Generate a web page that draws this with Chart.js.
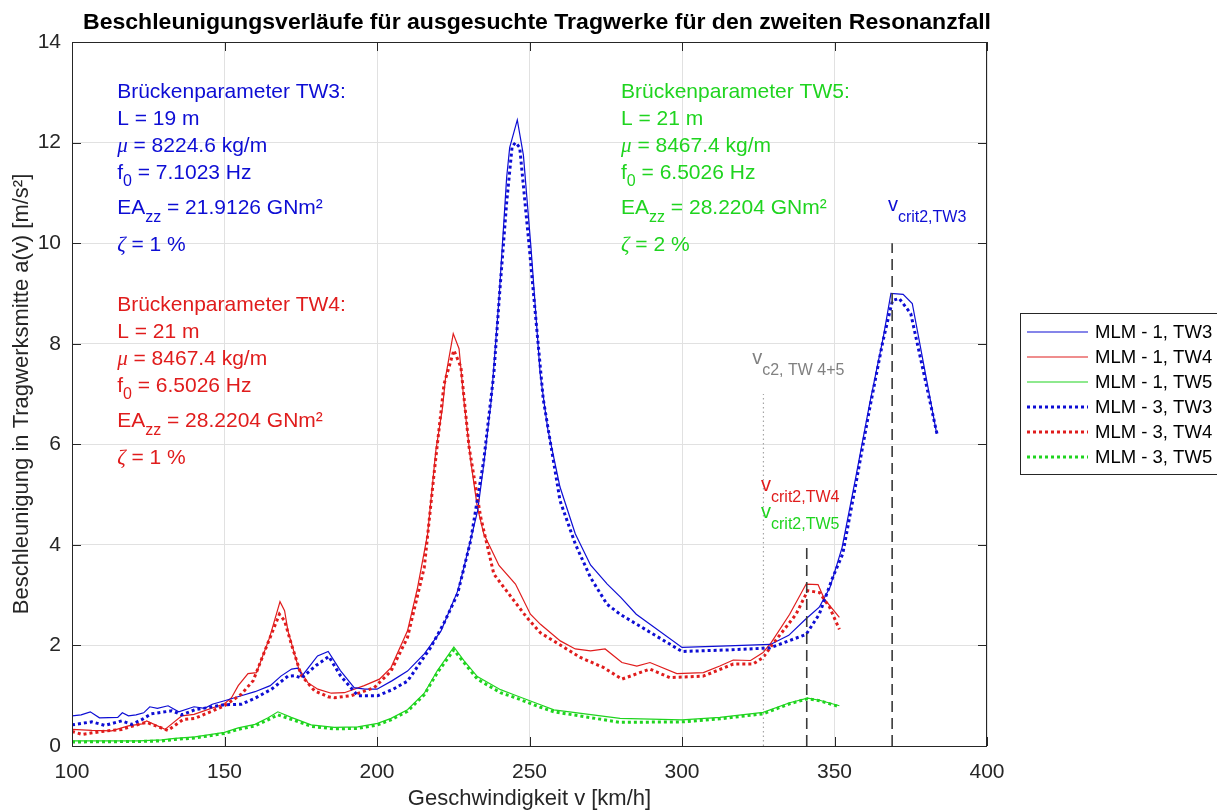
<!DOCTYPE html>
<html>
<head>
<meta charset="utf-8">
<script src="https://cdn.jsdelivr.net/npm/chart.js@4.4.0/dist/chart.umd.min.js"></script>
<style>
    html, body { margin: 0; padding: 0; background: #fff; }
    #wrap { width: 1217px; height: 811px; }
</style>
</head>
<body>
<div id="wrap"><canvas id="accChart" width="1217" height="811"></canvas></div>
<script>
// Messwerte: Geschwindigkeit [km/h] -> Beschleunigung in Tragwerksmitte [m/s²]
const mlm1Tw3Speed = [100, 103, 106, 109, 115, 116.5, 118.5, 121, 123.5, 125.5, 128, 131.5, 135, 140, 143.5, 146, 150, 155.5, 160, 165, 168.5, 172, 174, 175.5, 180.5, 184, 188, 192.5, 196, 200, 205, 210, 215.5, 221, 226.5, 228.5, 233, 235, 237.5, 240, 242.5, 243.5, 246, 248, 250.5, 253.5, 256, 260, 265, 270, 275.5, 280, 285, 300, 315, 329, 335, 340.5, 345, 348.5, 352.5, 357, 361.5, 366, 368.5, 372.5, 375.5, 383.5];
const mlm1Tw3Acc = [0.60, 0.62, 0.68, 0.56, 0.57, 0.66, 0.60, 0.62, 0.66, 0.78, 0.75, 0.80, 0.68, 0.78, 0.75, 0.83, 0.90, 1.00, 1.08, 1.20, 1.39, 1.53, 1.55, 1.40, 1.79, 1.88, 1.50, 1.16, 1.13, 1.13, 1.30, 1.49, 1.83, 2.29, 3.09, 3.55, 4.68, 5.60, 6.90, 8.90, 11.30, 11.90, 12.45, 11.75, 9.90, 7.40, 6.30, 5.15, 4.22, 3.60, 3.22, 2.95, 2.62, 1.96, 1.99, 2.02, 2.20, 2.52, 2.76, 3.15, 3.95, 5.35, 6.80, 8.13, 9.00, 8.98, 8.80, 6.21];

const mlm1Tw4Speed = [100, 106.5, 113, 118.5, 123, 124.5, 130.5, 136, 140, 150, 152.3, 154.5, 157.7, 160.5, 164.8, 168.2, 169.7, 170.8, 174.3, 177.3, 180.6, 185, 189.3, 195.8, 200.8, 204.6, 210, 213.3, 216.6, 219.3, 221.5, 222.5, 225, 226.9, 228.5, 230.7, 232.9, 235, 240, 245.4, 250.3, 253.6, 260.1, 265, 270, 274.8, 280.3, 285.2, 289.5, 298.3, 307, 312.4, 316.8, 322.5, 326.6, 329.3, 335.3, 340.7, 344.6, 346.7, 351.6];
const mlm1Tw4Acc = [0.33, 0.31, 0.30, 0.40, 0.44, 0.50, 0.33, 0.60, 0.63, 0.84, 0.96, 1.20, 1.44, 1.46, 2.16, 2.87, 2.69, 2.29, 1.55, 1.26, 1.13, 1.05, 1.06, 1.20, 1.33, 1.56, 2.29, 3.15, 4.22, 5.88, 6.74, 7.34, 8.20, 7.90, 6.87, 5.68, 4.75, 4.22, 3.59, 3.22, 2.62, 2.42, 2.09, 1.93, 1.89, 1.93, 1.66, 1.59, 1.66, 1.44, 1.46, 1.59, 1.71, 1.70, 1.86, 2.06, 2.62, 3.22, 3.21, 2.92, 2.56];

const mlm1Tw5Speed = [100, 121.8, 129.4, 133.7, 140.3, 150, 154.5, 160, 164.3, 167.5, 171.9, 178.4, 186, 193.7, 200.2, 204.6, 210, 215.5, 219.8, 225.2, 228.5, 232.9, 240.5, 244.9, 253.6, 258, 279.7, 300, 312.4, 326.6, 335.3, 341.2, 345.1, 351.6];
const mlm1Tw5Acc = [0.10, 0.10, 0.12, 0.15, 0.18, 0.27, 0.36, 0.43, 0.56, 0.68, 0.57, 0.42, 0.37, 0.38, 0.45, 0.55, 0.72, 1.05, 1.50, 1.97, 1.70, 1.38, 1.12, 1.02, 0.82, 0.72, 0.55, 0.52, 0.57, 0.67, 0.86, 0.95, 0.91, 0.80];

const mlm3Tw3Speed = [100, 103.3, 106.5, 110.8, 116.3, 119.6, 123, 126, 132.7, 136, 140.3, 150, 155.5, 160, 165.4, 170.8, 173, 175.2, 180, 184.2, 188, 193.7, 200.2, 205, 210, 217.6, 222, 226.4, 230.7, 235, 238.3, 240.2, 242.5, 244.3, 245.4, 246.8, 249.8, 254.5, 260, 265, 270, 275.4, 279.7, 285.2, 300, 315, 328.8, 340.7, 345, 349.4, 352.7, 357, 361.4, 365.8, 369, 371.2, 375, 383.6];
const mlm3Tw3Acc = [0.42, 0.45, 0.48, 0.41, 0.50, 0.43, 0.53, 0.64, 0.70, 0.62, 0.72, 0.82, 0.83, 0.95, 1.13, 1.39, 1.40, 1.35, 1.60, 1.78, 1.40, 1.00, 1.00, 1.12, 1.29, 1.96, 2.45, 3.02, 4.08, 5.68, 7.40, 9.00, 10.80, 11.92, 12.00, 11.90, 10.00, 6.90, 4.88, 4.02, 3.35, 2.82, 2.62, 2.42, 1.88, 1.91, 1.95, 2.22, 2.62, 3.35, 3.82, 5.21, 6.67, 8.03, 8.86, 8.90, 8.60, 6.21];

const mlm3Tw4Speed = [100, 103.3, 109.8, 116.3, 122.9, 124.5, 131.4, 136.5, 140.3, 150, 155.5, 159.4, 163.2, 168, 169.7, 171.9, 175.2, 179.5, 183.9, 186, 191.5, 199.1, 204.6, 210, 215.5, 218.7, 222, 225.2, 227.5, 230.2, 234, 238.3, 244.9, 249.2, 253.6, 257.9, 266.7, 274.3, 280.3, 289.5, 296, 307, 316.8, 323.3, 326.6, 329.8, 337.4, 341.2, 345.1, 348.4, 351.6];
const mlm3Tw4Acc = [0.29, 0.23, 0.29, 0.33, 0.45, 0.47, 0.31, 0.53, 0.55, 0.80, 1.03, 1.30, 1.89, 2.62, 2.49, 2.03, 1.40, 1.10, 0.98, 0.96, 1.00, 1.16, 1.49, 2.16, 3.55, 5.41, 7.20, 7.87, 7.54, 5.94, 4.55, 3.42, 2.89, 2.55, 2.25, 2.09, 1.76, 1.56, 1.33, 1.53, 1.36, 1.39, 1.63, 1.63, 1.76, 2.03, 2.62, 3.09, 3.05, 2.76, 2.32];

const mlm3Tw5Speed = [100, 121.8, 129.4, 133.7, 140.3, 150, 154.5, 160, 164.3, 167.5, 171.9, 178.4, 186, 193.7, 200.2, 204.6, 210, 215.5, 219.8, 225.2, 228.5, 232.9, 240.5, 244.9, 253.6, 258, 279.7, 300, 312.4, 326.6, 335.3, 341.2, 345.1, 351.6];
const mlm3Tw5Acc = [0.08, 0.09, 0.10, 0.13, 0.16, 0.25, 0.33, 0.40, 0.52, 0.62, 0.53, 0.39, 0.34, 0.35, 0.42, 0.52, 0.69, 1.02, 1.46, 1.91, 1.66, 1.33, 1.06, 0.97, 0.77, 0.68, 0.47, 0.48, 0.54, 0.64, 0.84, 0.94, 0.90, 0.78];

const seriesLabels = ['MLM - 1, TW3', 'MLM - 1, TW4', 'MLM - 1, TW5', 'MLM - 3, TW3', 'MLM - 3, TW4', 'MLM - 3, TW5'];

// kritische Geschwindigkeiten (Hilfslinien) und deren Höhe
const refSpeed = [326.7, 340.9, 368.9];
const refTop = [7, 4, 10];

// Brückenparameter
const bridgeName = ['TW3', 'TW4', 'TW5'];
const bridgeLength = ['19', '21', '21'];
const bridgeMass = ['8224.6', '8467.4', '8467.4'];
const bridgeFreq = ['7.1023', '6.5026', '6.5026'];
const bridgeStiffness = ['21.9126', '28.2204', '28.2204'];
const bridgeDamping = ['1', '1', '2'];

const xTicks = [100, 150, 200, 250, 300, 350, 400];
const yTicks = [0, 2, 4, 6, 8, 10, 12, 14];

const FONT = '"Liberation Sans", Arial, Helvetica, sans-serif';
const BLUE = '#0d0dd4';
const RED = '#e01c1c';
const GREEN = '#1fd41f';
const AXIS = '#262626';

Chart.defaults.font.family = FONT;

function toPoints(xs, ys) {
    return xs.map((x, i) => ({ x: x, y: ys[i] }));
}

const curves = [
    { xs: mlm1Tw3Speed, ys: mlm1Tw3Acc, color: BLUE, dotted: false },
    { xs: mlm1Tw4Speed, ys: mlm1Tw4Acc, color: RED, dotted: false },
    { xs: mlm1Tw5Speed, ys: mlm1Tw5Acc, color: GREEN, dotted: false },
    { xs: mlm3Tw3Speed, ys: mlm3Tw3Acc, color: BLUE, dotted: true },
    { xs: mlm3Tw4Speed, ys: mlm3Tw4Acc, color: RED, dotted: true },
    { xs: mlm3Tw5Speed, ys: mlm3Tw5Acc, color: GREEN, dotted: true }
];

const datasets = curves.map((c, i) => ({
    label: seriesLabels[i],
    data: toPoints(c.xs, c.ys),
    borderColor: c.color,
    borderWidth: c.dotted ? 3 : 1.2,
    borderDash: c.dotted ? [3, 3] : [],
    borderCapStyle: 'butt',
    showLine: true,
    pointRadius: 0,
    tension: 0,
    order: c.dotted ? 1 : 2
}));

// Hilfslinien: v_c2 (gepunktet), v_crit2 (gestrichelt)
refSpeed.forEach((v, i) => {
    datasets.push({
        label: 'ref' + i,
        data: [{ x: v, y: 0 }, { x: v, y: refTop[i] }],
        borderColor: i === 0 ? '#a6a6a6' : '#3a3a3a',
        borderWidth: i === 0 ? 1.2 : 1.6,
        borderDash: i === 0 ? [1.5, 3] : [11, 6],
        showLine: true,
        pointRadius: 0,
        order: 0
    });
});

// Text mit Tiefstellung zeichnen
function drawRuns(ctx, x, y, runs, color) {
    ctx.fillStyle = color;
    ctx.textBaseline = 'middle';
    ctx.textAlign = 'left';
    let cx = x;
    for (const r of runs) {
        ctx.font = r.font;
        ctx.fillText(r.text, cx, y + (r.dy || 0));
        cx += ctx.measureText(r.text).width;
    }
}

const MAIN = `21px ${FONT}`;
const SUB = `16px ${FONT}`;
const GREEK = `italic 21px "Liberation Serif", "DejaVu Serif", serif`;

function paramLines(i) {
    return [
        [{ text: `Brückenparameter ${bridgeName[i]}:`, font: MAIN }],
        [{ text: `L = ${bridgeLength[i]} m`, font: MAIN }],
        [{ text: 'μ', font: GREEK }, { text: ` = ${bridgeMass[i]} kg/m`, font: MAIN }],
        [{ text: 'f', font: MAIN }, { text: '0', font: SUB, dy: 8 }, { text: ` = ${bridgeFreq[i]} Hz`, font: MAIN }],
        [{ text: 'EA', font: MAIN }, { text: 'zz', font: SUB, dy: 9 }, { text: ` = ${bridgeStiffness[i]} GNm²`, font: MAIN }],
        [{ text: 'ζ', font: GREEK }, { text: ` = ${bridgeDamping[i]} %`, font: MAIN }]
    ];
}

const decorPlugin = {
    id: 'decor',
    afterDraw(chart) {
        const { ctx, chartArea: a, scales: { x, y } } = chart;
        ctx.save();

        // Rahmen und innenliegende Ticks
        ctx.strokeStyle = AXIS;
        ctx.lineWidth = 1;
        ctx.strokeRect(a.left + 0.5, a.top + 0.5, a.right - a.left - 1, a.bottom - a.top);
        ctx.beginPath();
        xTicks.forEach(v => {
            const px = Math.round(x.getPixelForValue(v)) + 0.5;
            ctx.moveTo(px, a.bottom); ctx.lineTo(px, a.bottom - 9);
            ctx.moveTo(px, a.top); ctx.lineTo(px, a.top + 9);
        });
        yTicks.forEach(v => {
            const py = Math.round(y.getPixelForValue(v)) + 0.5;
            ctx.moveTo(a.left, py); ctx.lineTo(a.left + 9, py);
            ctx.moveTo(a.right, py); ctx.lineTo(a.right - 9, py);
        });
        ctx.stroke();

        // Titel, auf Zielbreite gestreckt
        const title = 'Beschleunigungsverläufe für ausgesuchte Tragwerke für den zweiten Resonanzfall';
        ctx.font = `bold 22px ${FONT}`;
        const sx = 908 / ctx.measureText(title).width;
        ctx.save();
        ctx.translate(537, 29);
        ctx.scale(sx, 1);
        ctx.fillStyle = '#000';
        ctx.textAlign = 'center';
        ctx.textBaseline = 'alphabetic';
        ctx.fillText(title, 0, 0);
        ctx.restore();

        // Parameterblöcke
        const blocks = [
            { i: 0, vx: 114.8, vy: 13.0, color: BLUE },
            { i: 1, vx: 114.8, vy: 8.76, color: RED },
            { i: 2, vx: 280.0, vy: 13.0, color: GREEN }
        ];
        const offs = [0, 27, 54, 81, 116, 153];
        blocks.forEach(b => {
            const bx = x.getPixelForValue(b.vx);
            const by = y.getPixelForValue(b.vy);
            paramLines(b.i).forEach((runs, k) => drawRuns(ctx, bx, by + offs[k], runs, b.color));
        });

        // Beschriftung der Hilfslinien
        const vLabels = [
            { vx: 323.0, vy: 7.71, sub: 'c2, TW 4+5', color: '#808080' },
            { vx: 325.9, vy: 5.18, sub: 'crit2,TW4', color: RED },
            { vx: 325.9, vy: 4.64, sub: 'crit2,TW5', color: GREEN },
            { vx: 367.5, vy: 10.75, sub: 'crit2,TW3', color: BLUE }
        ];
        vLabels.forEach(l => {
            drawRuns(ctx, x.getPixelForValue(l.vx), y.getPixelForValue(l.vy),
                [{ text: 'v', font: `20px ${FONT}` }, { text: l.sub, font: SUB, dy: 12 }], l.color);
        });

        // Legende
        const lx = a.right + 33, ly = 313, lh = 161;
        ctx.fillStyle = '#fff';
        ctx.fillRect(lx, ly, chart.width - lx + 5, lh);
        ctx.strokeStyle = AXIS;
        ctx.lineWidth = 1;
        ctx.strokeRect(lx + 0.5, ly + 0.5, chart.width - lx + 5, lh);
        curves.forEach((c, i) => {
            const ry = ly + 19 + i * 25;
            ctx.beginPath();
            ctx.strokeStyle = c.color;
            ctx.lineWidth = c.dotted ? 3 : 1.2;
            ctx.setLineDash(c.dotted ? [3, 3] : []);
            ctx.moveTo(lx + 7, ry);
            ctx.lineTo(lx + 68, ry);
            ctx.stroke();
            ctx.setLineDash([]);
            ctx.fillStyle = '#000';
            ctx.font = `18.5px ${FONT}`;
            ctx.textAlign = 'left';
            ctx.textBaseline = 'middle';
            ctx.fillText(seriesLabels[i], lx + 75, ry + 1);
        });

        ctx.restore();
    }
};

new Chart(document.getElementById('accChart'), {
    type: 'scatter',
    data: { datasets: datasets },
    options: {
        responsive: false,
        devicePixelRatio: 1,
        animation: false,
        layout: { padding: { left: 0, top: 42, right: 230, bottom: 0 } },
        plugins: {
            legend: { display: false },
            tooltip: { enabled: false },
            title: { display: false }
        },
        scales: {
            x: {
                type: 'linear',
                min: 100,
                max: 400,
                afterBuildTicks: s => { s.ticks = xTicks.map(v => ({ value: v })); },
                afterFit: s => { s.height = 65; },
                ticks: { color: AXIS, font: { size: 21 }, padding: 14 },
                grid: { color: '#e1e1e1', drawTicks: false },
                border: { display: false },
                title: {
                    display: true,
                    text: 'Geschwindigkeit v [km/h]',
                    color: AXIS,
                    font: { size: 22 },
                    padding: { top: 0, bottom: -1 }
                }
            },
            y: {
                type: 'linear',
                min: 0,
                max: 14,
                afterBuildTicks: s => { s.ticks = yTicks.map(v => ({ value: v })); },
                afterFit: s => { s.width = 72; },
                ticks: { color: AXIS, font: { size: 21 }, padding: 11 },
                grid: { color: '#e1e1e1', drawTicks: false },
                border: { display: false },
                title: {
                    display: true,
                    text: 'Beschleunigung in Tragwerksmitte a(v) [m/s²]',
                    color: AXIS,
                    font: { size: 22 },
                    padding: { top: 9, bottom: 0 }
                }
            }
        }
    },
    plugins: [decorPlugin]
});
</script>
</body>
</html>
